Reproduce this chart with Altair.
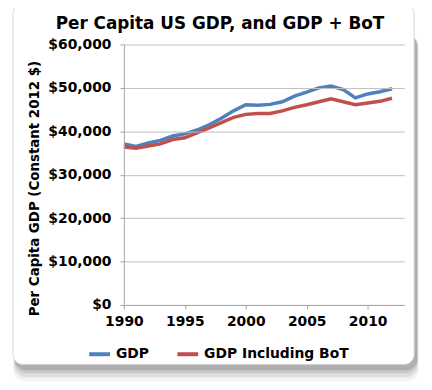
import altair as alt
import pandas as pd

years = list(range(1990, 2013))
gdp = [37100, 36500, 37300, 37900, 38900, 39400, 40300, 41500, 43000, 44700,
       46100, 46000, 46200, 46800, 48100, 49000, 50000, 50400, 49600, 47700,
       48600, 49100, 49800]
gdp_bot = [36400, 36100, 36600, 37100, 38100, 38500, 39600, 40800, 42000, 43200,
           43900, 44100, 44100, 44700, 45500, 46100, 46800, 47500, 46800, 46100,
           46500, 46900, 47600]
series_names = ["GDP", "GDP Including BoT"]
series_colors = ["#4F81BD", "#C0504D"]
title_text = ["Per Capita US GDP, and GDP + BoT"]

rows = []
for y, a, b in zip(years, gdp, gdp_bot):
    rows.append({"Year": y, "Series": series_names[0], "Value": a})
    rows.append({"Year": y, "Series": series_names[1], "Value": b})
df = pd.DataFrame(rows)

FONT = "DejaVu Sans"

# card decoration (background panel with soft shadow)
card_df = pd.DataFrame({"k": [0]})
shadow_layers = []
for op, grow in [(0.08, 14), (0.12, 10), (0.16, 6), (0.22, 3)]:
    shadow_layers.append(
        alt.Chart(card_df).mark_rect(cornerRadius=12, color="#555555", opacity=op, clip=False).encode(
            x=alt.value(-110 - grow * 0.1), x2=alt.value(296 + grow * 0.1),
            y=alt.value(-10), y2=alt.value(326 + grow)))
card = alt.Chart(card_df).mark_rect(cornerRadius=10, fill="white", stroke="#d8d8d8", strokeWidth=1, clip=False).encode(
    x=alt.value(-112), x2=alt.value(293), y=alt.value(-41), y2=alt.value(323))

title = alt.Chart(pd.DataFrame({"t": title_text})).mark_text(
    font=FONT, fontSize=17, fontWeight="bold", color="#000000", align="center",
    baseline="alphabetic").encode(text="t:N", x=alt.value(97), y=alt.value(-16))

lines = alt.Chart(df).mark_line(strokeWidth=3.5, clip=False).encode(
    x=alt.X("Year:Q", scale=alt.Scale(domain=[1990, 2013], nice=False, zero=False),
            axis=alt.Axis(values=[1990, 1995, 2000, 2005, 2010], format="d", title=None,
                          grid=False, domainColor="#a6a6a6", tickColor="#a6a6a6", tickSize=4,
                          labelFont=FONT, labelFontSize=14, labelFontWeight="bold",
                          labelColor="#000000", labelPadding=6, labelFlush=False, zindex=1)),
    y=alt.Y("Value:Q", scale=alt.Scale(domain=[0, 60000], nice=False),
            axis=alt.Axis(values=[0, 10000, 20000, 30000, 40000, 50000, 60000], format="$,.0f",
                          title="Per Capita GDP (Constant 2012 $)", titleFont=FONT,
                          titleFontSize=13.5, titleFontWeight="bold", titleColor="#000000",
                          titlePadding=6, titleY=145,
                          gridColor="#bfbfbf", gridWidth=1, domainColor="#a6a6a6",
                          tickColor="#a6a6a6", tickSize=4,
                          labelFont=FONT, labelFontSize=14, labelFontWeight="bold",
                          labelColor="#000000", labelPadding=9, zindex=1)),
    color=alt.Color("Series:N", scale=alt.Scale(domain=series_names, range=series_colors),
                    legend=alt.Legend(title=None, orient="none", direction="horizontal",
                                      legendX=-37, legendY=300, symbolType="stroke",
                                      symbolStrokeWidth=4, symbolSize=440,
                                      labelFont=FONT, labelFontSize=14, labelFontWeight="bold",
                                      labelColor="#000000", columnPadding=20)),
)

chart = alt.layer(*shadow_layers, card, title, lines).properties(
    width=283, height=263,
    autosize=alt.AutoSizeParams(type="none"),
    padding={"left": 117, "top": 35, "right": 20, "bottom": 76},
    background="white",
).configure_view(stroke=None)

chart.save("out.html", embed_options={"renderer": "svg", "actions": False})
